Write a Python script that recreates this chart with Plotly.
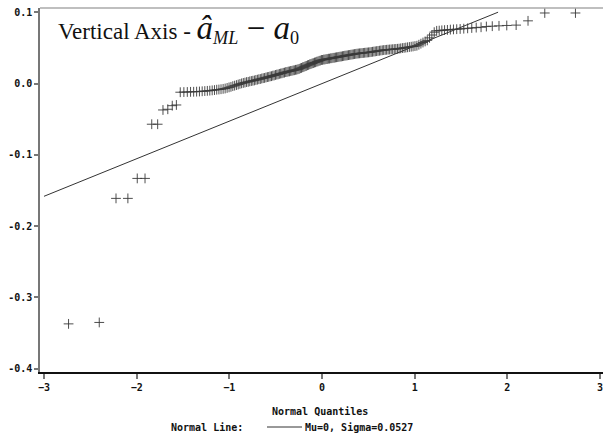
from statistics import NormalDist
import plotly.graph_objects as go

# Sorted residuals (a_ML - a0)
residuals = [
    -0.337, -0.335, -0.161, -0.161, -0.133, -0.133, -0.057, -0.057, -0.037, -0.036, -0.031, -0.030,
    -0.0121, -0.0119, -0.0118, -0.0116, -0.0115, -0.0113, -0.0111, -0.0108,
    -0.0105, -0.0102, -0.0099, -0.0095, -0.0091, -0.0086, -0.0083, -0.0079, -0.0074, -0.0069,
    -0.0061, -0.0053, -0.0046, -0.0036, -0.0029, -0.0021, -0.0013, -0.0005, 0.0003, 0.0009,
    0.0014, 0.0021, 0.0024, 0.0031, 0.0036, 0.0040, 0.0044, 0.0051, 0.0055, 0.0061,
    0.0064, 0.0071, 0.0076, 0.0079, 0.0086, 0.0091, 0.0094, 0.0101, 0.0104, 0.0111,
    0.0114, 0.0121, 0.0126, 0.0129, 0.0136, 0.0141, 0.0144, 0.0151, 0.0154, 0.0161,
    0.0163, 0.0169, 0.0171, 0.0177, 0.0179, 0.0185, 0.0187, 0.0193, 0.0195, 0.0201,
    0.0206, 0.0215, 0.0220, 0.0229, 0.0234, 0.0243, 0.0248, 0.0257, 0.0262, 0.0271,
    0.0275, 0.0283, 0.0287, 0.0295, 0.0299, 0.0307, 0.0311, 0.0319, 0.0323, 0.0331,
    0.0332, 0.0337, 0.0338, 0.0343, 0.0344, 0.0349, 0.0350, 0.0355, 0.0356, 0.0361,
    0.0362, 0.0366, 0.0369, 0.0371, 0.0375, 0.0378, 0.0380, 0.0384, 0.0387, 0.0391,
    0.0393, 0.0396, 0.0399, 0.0402, 0.0405, 0.0408, 0.0411, 0.0414, 0.0417, 0.0420,
    0.0422, 0.0424, 0.0426, 0.0428, 0.0430, 0.0432, 0.0434, 0.0436, 0.0438, 0.0440,
    0.0443, 0.0446, 0.0449, 0.0452, 0.0455, 0.0458, 0.0461, 0.0464, 0.0467, 0.0470,
    0.0472, 0.0474, 0.0476, 0.0478, 0.0480, 0.0482, 0.0484, 0.0486, 0.0488, 0.0490,
    0.0494, 0.0498, 0.0501, 0.0505, 0.0509, 0.0513, 0.0517, 0.0521, 0.0526, 0.0531,
    0.0545, 0.0560, 0.0576, 0.0591, 0.0606,
    0.0641, 0.0681, 0.0721,
    0.0740, 0.0743, 0.0747, 0.0750, 0.0753, 0.0757, 0.0760, 0.0763, 0.0766, 0.0770,
    0.0775, 0.0780, 0.0785, 0.0790,
    0.0800, 0.0805, 0.0810, 0.0815, 0.0820,
    0.0880,
    0.0990, 0.0990,
]

# Reference normal line parameters
mu = 0.0
sigma = 0.0527
line_x = [-3.0, 1.9]

x_tick_vals = [-3, -2, -1, 0, 1, 2, 3]
y_tick_vals = [-0.4, -0.3, -0.2, -0.1, 0.0, 0.1]
y_tick_text = ["-0.4", "-0.3", "-0.2", "-0.1", "0.0", "0.1"]

# Theoretical normal quantiles (Blom)
n = len(residuals)
nd = NormalDist()
quantiles = [nd.inv_cdf((i + 1 - 0.375) / (n + 0.25)) for i in range(n)]
line_y = [mu + sigma * v for v in line_x]

mono = dict(family="DejaVu Sans Mono", size=10, color="#111", weight="bold")

fig = go.Figure()
fig.add_trace(go.Scatter(
    x=line_x, y=line_y, mode="lines",
    line=dict(color="#333", width=1), hoverinfo="skip", showlegend=False))
fig.add_trace(go.Scatter(
    x=quantiles, y=residuals, mode="markers",
    marker=dict(symbol="cross-thin", size=7, line=dict(color="#3a3a3a", width=0.9)),
    showlegend=False))

L, T, B = 40, 8, 70
W, H = 603, 442
pw, ph = W - L, H - T - B

def px(xp):
    return (xp - L) / pw

def py(yp):
    return (H - B - yp) / ph

fig.update_layout(
    width=W, height=H,
    margin=dict(l=L, r=0, t=T, b=B, autoexpand=False),
    paper_bgcolor="white", plot_bgcolor="white",
    xaxis=dict(range=[-3.043, 3.032], tickvals=x_tick_vals, showgrid=False, zeroline=False,
               automargin=False, ticklabeloverflow="allow",
               showline=True, linecolor="#111", linewidth=2, ticks="outside", ticklen=5,
               tickcolor="#777", tickwidth=1.5, tickfont=mono),
    yaxis=dict(range=[-0.4045, 0.106], tickvals=y_tick_vals, ticktext=y_tick_text,
               automargin=False, ticklabeloverflow="allow",
               showgrid=False, zeroline=False, showline=True, linecolor="#777", linewidth=1.5,
               ticks="outside", ticklen=4, tickcolor="#777", tickwidth=1.5, tickfont=mono),
    shapes=[
        dict(type="line", xref="paper", yref="paper", x0=0, x1=1, y0=1, y1=1,
             line=dict(color="#aaa", width=1.5)),
        dict(type="line", xref="paper", yref="paper", x0=px(267), x1=px(302),
             y0=py(427), y1=py(427), line=dict(color="#333", width=1)),
    ],
    annotations=[
        dict(xref="paper", yref="paper", x=px(56), y=py(29), xanchor="left", yanchor="middle",
             showarrow=False,
             text=("Vertical Axis - <span style='font-size:33px'><i>â</i></span>"
                   "<span style='font-size:26px'><sub><i>ML</i></sub></span>"
                   "<span style='font-size:33px'> − <i>a</i></span>"
                   "<span style='font-size:26px'><sub>0</sub></span>"),
             font=dict(family="Liberation Serif", size=23, color="#111")),
        dict(xref="paper", yref="paper", x=px(320), y=py(411.7), xanchor="center", yanchor="middle",
             showarrow=False, text="Normal Quantiles", font=mono),
        dict(xref="paper", yref="paper", x=px(169), y=py(428), xanchor="left", yanchor="middle",
             showarrow=False, text="Normal Line:", font=mono),
        dict(xref="paper", yref="paper", x=px(303), y=py(428), xanchor="left", yanchor="middle",
             showarrow=False, text="Mu=0, Sigma=0.0527", font=mono),
    ],
)

fig.write_html("out.html", config={"displayModeBar": False},
               post_script="document.body.style.margin='0px';")
